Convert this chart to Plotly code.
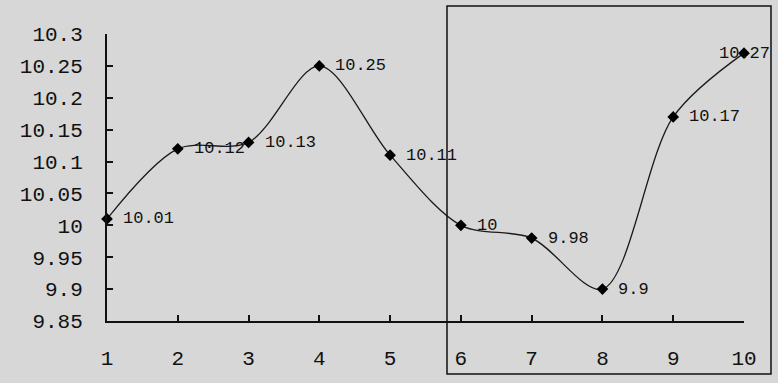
import plotly.graph_objects as go

x_vals = [1, 2, 3, 4, 5, 6, 7, 8, 9, 10]
y_vals = [10.01, 10.12, 10.13, 10.25, 10.11, 10.00, 9.98, 9.90, 10.17, 10.27]
label_texts = ["10.01", "10.12", "10.13", "10.25", "10.11", "10", "9.98", "9.9", "10.17", "10.27"]
y_ticks = [9.85, 9.9, 9.95, 10.0, 10.05, 10.1, 10.15, 10.2, 10.25, 10.3]
y_tick_text = ["9.85", "9.9", "9.95", "10", "10.05", "10.1", "10.15", "10.2", "10.25", "10.3"]

BG = "#d7d7d7"
FONT = "Liberation Mono"

fig = go.Figure()
fig.add_trace(go.Scatter(
    x=x_vals, y=y_vals, mode="lines+markers",
    line=dict(color="#1a1a1a", width=1.3, shape="spline", smoothing=0.9),
    marker=dict(symbol="diamond", size=9, color="black"),
    cliponaxis=False, showlegend=False,
))

for i, (xv, yv, t) in enumerate(zip(x_vals, y_vals, label_texts)):
    last = i == len(x_vals) - 1
    fig.add_annotation(
        x=xv, y=yv, text=t, showarrow=False,
        xanchor="center" if last else "left",
        xshift=0 if last else 14,
        font=dict(family=FONT, size=17, color="#111"),
    )

fig.add_shape(type="rect", xref="paper", yref="paper",
              x0=(447 - 107) / 637, x1=(771 - 107) / 637,
              y0=(321 - 374) / 287, y1=(321 - 6) / 287,
              line=dict(color="#111", width=1.5), fillcolor="rgba(0,0,0,0)")

fig.update_layout(
    width=778, height=383,
    margin=dict(l=107, r=34, t=34, b=62),
    paper_bgcolor=BG, plot_bgcolor=BG,
    font=dict(family=FONT, size=21, color="#111"),
)
fig.update_xaxes(
    range=[1, 10], tickmode="array", tickvals=x_vals, ticktext=[str(v) for v in x_vals],
    showgrid=False, zeroline=False, showline=True, linecolor="#111", linewidth=1.5,
    ticks="inside", ticklen=6, tickcolor="#111", tickwidth=1.5, ticklabelstandoff=17,
)
fig.update_yaxes(
    range=[9.85, 10.3], tickmode="array", tickvals=y_ticks, ticktext=y_tick_text,
    showgrid=False, zeroline=False, showline=True, linecolor="#111", linewidth=2,
    ticks="inside", ticklen=6, tickcolor="#111", tickwidth=1.5, ticklabelstandoff=18,
)

fig.write_html("out.html")
